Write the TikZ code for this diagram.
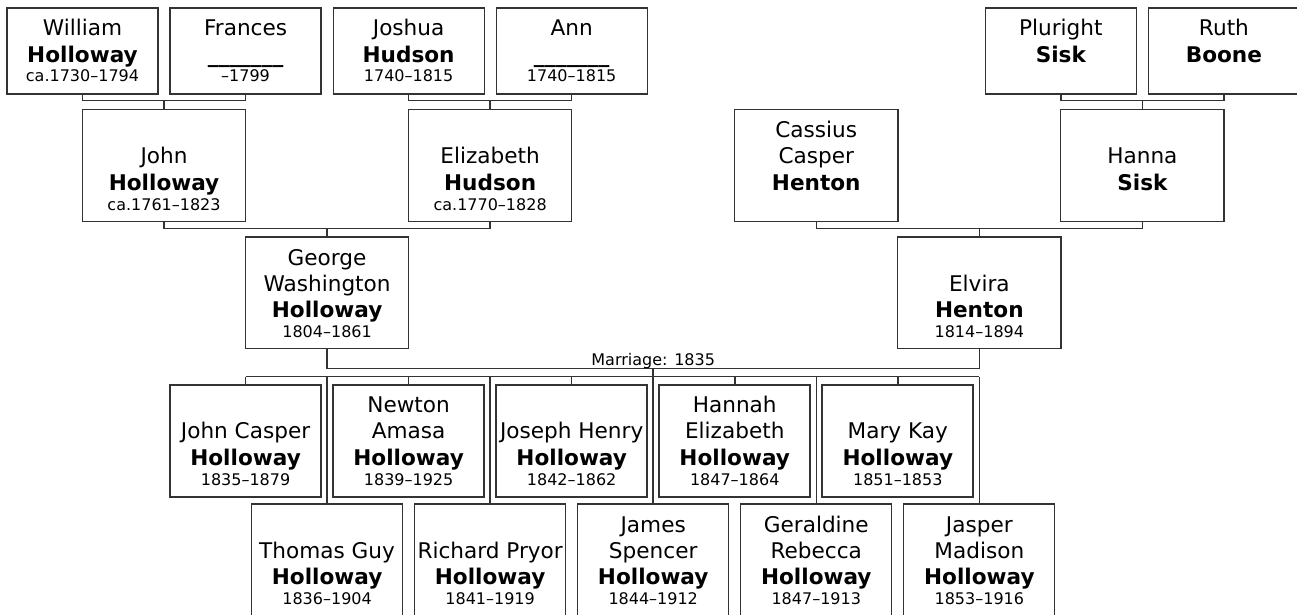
\documentclass[tikz,border=0pt]{standalone}
\usepackage{fontspec}
\setmainfont{DejaVu Sans}
\tikzset{
  base/.style={draw=black!80, fill=white, inner sep=0pt, minimum width=151pt},
  box1/.style={base, line width=1.2pt, minimum height=86pt},
  gbox/.style={base, line width=1.2pt, minimum width=163.3pt, minimum height=111.7pt},
  cboxa/.style={base, line width=2pt, minimum height=112pt},
  cboxb/.style={base, line width=1.2pt, minimum height=111.7pt},
  nm/.style={anchor=base, inner sep=0pt, font=\fontsize{21.6}{26}\selectfont},
  bnm/.style={anchor=base, inner sep=0pt, font=\fontsize{21.6}{26}\selectfont\bfseries},
  dt/.style={anchor=base, inner sep=0pt, font=\fontsize{16}{19}\selectfont},
  conn/.style={draw=black!80, line width=1.5pt}
}
\newcommand\pgone[5]{%
  \node[box1] (#1) at ({82.5+#2*81.53},51) {};
  \node[nm] (#1-a) at ([yshift=-28pt]#1.north) {#3};
  \node[bnm] (#1-b) at ([yshift=-55.3pt]#1.north) {#4};
  \node[dt] (#1-c) at ([yshift=-73.7pt]#1.north) {#5};
}
\newcommand\pfull[8]{%
  \node[#4, anchor=north] (#1) at ({82.5+#2*81.53},#3) {};
  \node[nm] (#1-a) at ([yshift=-28.7pt]#1.north) {#5};
  \node[nm] (#1-b) at ([yshift=-54.7pt]#1.north) {#6};
  \node[bnm] (#1-c) at ([yshift=-81pt]#1.north) {#7};
  \node[dt] (#1-d) at ([yshift=-101.5pt]#1.north) {#8};
}
\begin{document}
\begin{tikzpicture}[x=1pt, y=-1pt]
\clip (0,0) rectangle (1297,614);
\fill[white] (0,0) rectangle (1297,614);

% generation 1
\pgone{william}{0}{William}{Holloway}{ca.1730–1794}
\pgone{frances}{2}{Frances}{\_\_\_\_\_\_\_}{–1799}
\pgone{joshua}{4}{Joshua}{Hudson}{1740–1815}
\pgone{ann}{6}{Ann}{\_\_\_\_\_\_\_}{1740–1815}
\pgone{plur}{12}{Pluright}{Sisk}{}
\pgone{ruth}{14}{Ruth}{Boone}{}

% generation 2
\pfull{john}{1}{109}{gbox}{}{John}{Holloway}{ca.1761–1823}
\pfull{eliz}{5}{109}{gbox}{}{Elizabeth}{Hudson}{ca.1770–1828}
\pfull{cass}{9}{109}{gbox}{Cassius}{Casper}{Henton}{}
\pfull{hanna}{13}{109}{gbox}{}{Hanna}{Sisk}{}

% generation 3
\pfull{george}{3}{236.3}{gbox}{George}{Washington}{Holloway}{1804–1861}
\pfull{elvira}{11}{236.3}{gbox}{}{Elvira}{Henton}{1814–1894}

% children
\pfull{c1}{2}{384}{cboxa}{}{John Casper}{Holloway}{1835–1879}
\pfull{c3}{4}{384}{cboxa}{Newton}{Amasa}{Holloway}{1839–1925}
\pfull{c5}{6}{384}{cboxa}{}{Joseph Henry}{Holloway}{1842–1862}
\pfull{c7}{8}{384}{cboxa}{Hannah}{Elizabeth}{Holloway}{1847–1864}
\pfull{c9}{10}{384}{cboxa}{}{Mary Kay}{Holloway}{1851–1853}
\pfull{c2}{3}{503.3}{cboxb}{}{Thomas Guy}{Holloway}{1836–1904}
\pfull{c4}{5}{503.3}{cboxb}{}{Richard Pryor}{Holloway}{1841–1919}
\pfull{c6}{7}{503.3}{cboxb}{James}{Spencer}{Holloway}{1844–1912}
\pfull{c8}{9}{503.3}{cboxb}{Geraldine}{Rebecca}{Holloway}{1847–1913}
\pfull{c10}{11}{503.3}{cboxb}{Jasper}{Madison}{Holloway}{1853–1916}

% junction coordinates
\coordinate (j1) at ({82.5+1*81.53},100.7);
\coordinate (j2) at ({82.5+5*81.53},100.7);
\coordinate (j3) at ({82.5+13*81.53},100.7);
\coordinate (j4) at ({82.5+3*81.53},228.7);
\coordinate (j5) at ({82.5+11*81.53},228.7);
\coordinate (m) at ({82.5+7*81.53},368.3);
\coordinate (k) at ({82.5+7*81.53},376.7);

% connectors
\draw[conn] (william.south) |- (j1) -| (frances.south);
\draw[conn] (j1) -- (john.north);
\draw[conn] (joshua.south) |- (j2) -| (ann.south);
\draw[conn] (j2) -- (eliz.north);
\draw[conn] (plur.south) |- (j3) -| (ruth.south);
\draw[conn] (j3) -- (hanna.north);
\draw[conn] (john.south) |- (j4) -| (eliz.south);
\draw[conn] (j4) -- (george.north);
\draw[conn] (cass.south) |- (j5) -| (hanna.south);
\draw[conn] (j5) -- (elvira.north);
\draw[conn] (george.south) |- (m) -| (elvira.south);
\draw[conn] (m) -- (k);
\draw[conn] (c1.north |- k) -- (c10.north |- k);
\foreach \c in {c1,c2,c3,c4,c5,c6,c7,c8,c9,c10}
  \draw[conn] (\c.north |- k) -- (\c.north);

\node[dt] (marr) at ({82.5+7*81.53},365) {Marriage: 1835};
\end{tikzpicture}
\end{document}
